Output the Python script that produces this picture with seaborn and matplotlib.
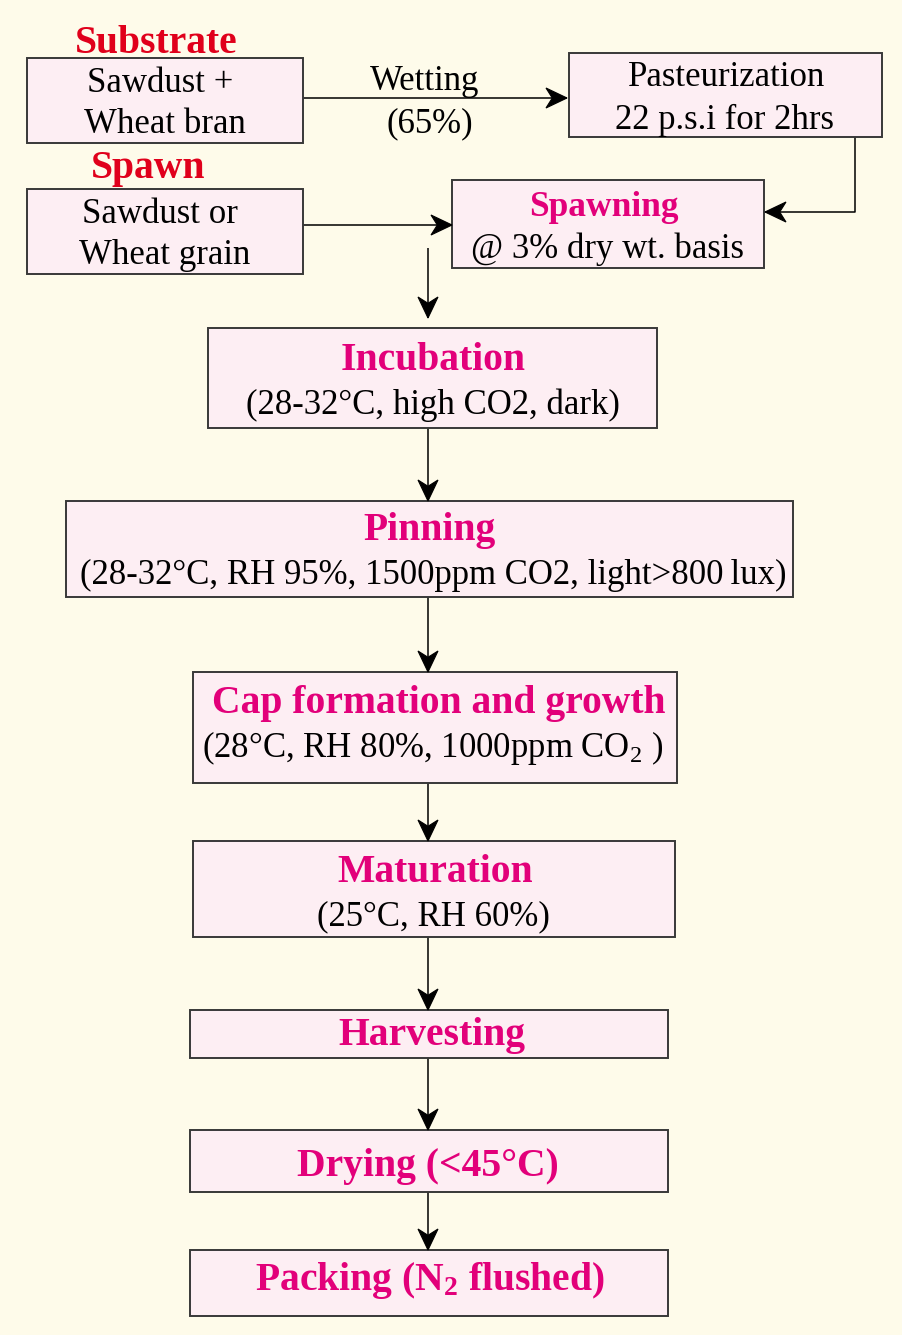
import matplotlib
matplotlib.use("Agg")
import numpy as np
import matplotlib.pyplot as plt
from matplotlib.patches import Rectangle, Polygon
import seaborn as sns

# texts of the flowchart
input_heads = ["Substrate", "Spawn"]
input_lines = [["Sawdust +", "Wheat bran"], ["Sawdust or", "Wheat grain"]]
wetting_label = ["Wetting", "(65%)"]
pasteur_lines = ["Pasteurization", "22 p.s.i for 2hrs"]
spawning_head = "Spawning"
spawning_note = "@ 3% dry wt. basis"
step_titles = ["Incubation", "Pinning", "Cap formation and growth", "Maturation",
               "Harvesting", "Drying (<45°C)", r"Packing (N$\mathregular{_2}$ flushed)"]
step_notes = ["(28-32°C, high CO2, dark)",
              "(28-32°C, RH 95%, 1500ppm CO2, light>800\u2009lux)",
              r"(28°C, RH 80%, 1000ppm CO$\mathregular{_2}$ )",
              "(25°C, RH 60%)", "", "", ""]

sns.set_theme(style="white")
plt.rcParams["font.family"] = ["Liberation Serif", "DejaVu Serif"]

BG = "#FEFBEA"
BOX = "#FDEEF3"
EDGE = "#383838"
MAG = "#E2007A"
RED = "#E0001B"
TSIZE = 28.5
BSIZE = 25

fig = plt.figure(figsize=(9.03, 13.35), dpi=100)
fig.patch.set_facecolor(BG)
ax = fig.add_axes([0, 0, 1, 1])
ax.set_xlim(0, 903)
ax.set_ylim(1335, 0)
ax.axis("off")
ax.set_facecolor(BG)


def box(x0, y0, x1, y1):
    ax.add_patch(Rectangle((x0, y0), x1 - x0, y1 - y0, facecolor=BOX,
                           edgecolor=EDGE, lw=1.4, zorder=2))


def arrow(pts, color="black"):
    # polyline ending in a stealth style head
    xs = [p[0] for p in pts]
    ys = [p[1] for p in pts]
    ax.plot(xs, ys, color=color, lw=1.1, zorder=1, solid_capstyle="butt")
    tip = np.array(pts[-1], float)
    d = tip - np.array(pts[-2], float)
    d /= np.hypot(*d)
    n = np.array([-d[1], d[0]])
    L, W = 21, 10
    head = [tip, tip - L * d + W * n, tip - 0.7 * L * d, tip - L * d - W * n]
    ax.add_patch(Polygon(head, closed=True, facecolor="black",
                         edgecolor="black", lw=0.8, zorder=3))


def txt(x, y, s, size=BSIZE, color="black", bold=False):
    ax.text(x, y, s, ha="center", va="baseline", fontsize=size, color=color,
            fontweight="bold" if bold else "normal", zorder=4)


# top left inputs
in_boxes = [(27, 58, 303, 143), (27, 189, 303, 274)]
head_base = [53, 178]
head_x = [156, 148]
for (x0, y0, x1, y1), hb, hx, head, lines in zip(in_boxes, head_base, head_x, input_heads, input_lines):
    box(x0, y0, x1, y1)
    txt(hx, hb, head, size=TSIZE, color=RED, bold=True)
    txt(160, y0 + 34, lines[0])
    txt(165, y0 + 75, lines[1])

# wetting arrow and pasteurization
arrow([(303, 98), (567, 98)])
txt(425, 90, wetting_label[0])
txt(430, 132, wetting_label[1])
box(569, 53, 882, 137)
txt(727, 86, pasteur_lines[0])
txt(725, 129, pasteur_lines[1])

# spawning
box(452, 180, 764, 268)
txt(604, 216, spawning_head, size=TSIZE - 3, color=MAG, bold=True)
txt(608, 258, spawning_note)
arrow([(855, 137), (855, 212), (765, 212)])
arrow([(303, 225), (452, 225)])

# main chain
step_boxes = [(208, 328, 657, 428), (66, 501, 793, 597), (193, 672, 677, 783),
              (193, 841, 675, 937), (190, 1010, 668, 1058), (190, 1130, 668, 1192),
              (190, 1250, 668, 1316)]
title_base = [370, 540, 713, 882, 1045, 1176, 1290]
note_base = [414, 584, 757, 925, 0, 0, 0]
title_x = [433, 430, 439, 435, 432, 428, 430]
for b, t, n, tb, nb, tx in zip(step_boxes, step_titles, step_notes, title_base, note_base, title_x):
    box(*b)
    txt(tx, tb, t, size=TSIZE, color=MAG, bold=True)
    if n:
        txt(433, nb, n)

arrow([(428, 248), (428, 318)])
prev = 428
for b in step_boxes[1:]:
    arrow([(428, prev), (428, b[1])])
    prev = b[3]

fig.savefig("out.png", dpi=100, facecolor=BG)
